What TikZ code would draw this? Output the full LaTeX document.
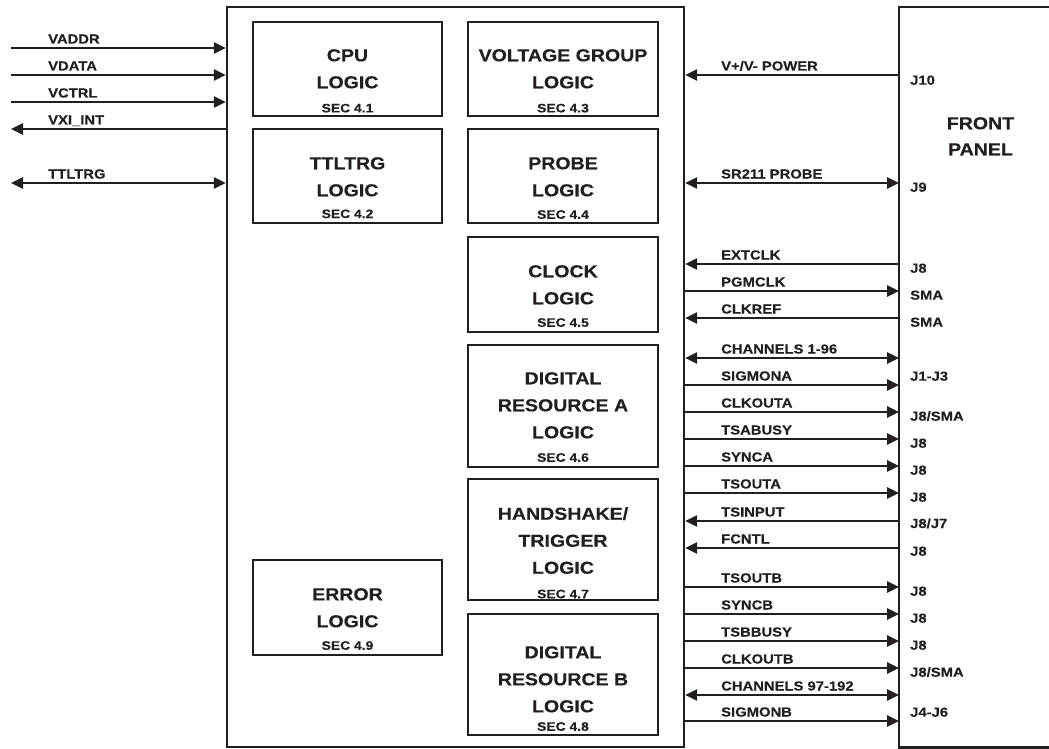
\documentclass[tikz,border=0pt]{standalone}
\usepackage{fontspec}
\setmainfont{Liberation Sans}[FakeStretch=1.13, BoldFeatures={FakeBold=0.4}]
\usetikzlibrary{arrows.meta}
\definecolor{ink}{RGB}{35,31,32}
\newcommand\secf{\fontsize{12.3}{27}\selectfont}
\begin{document}
\begin{tikzpicture}[x=1pt,y=-1pt,
  boxline/.style={draw=ink, line width=2.4pt},
  blk/.style={boxline, inner sep=0pt, minimum width=189pt},
  ttxt/.style={inner sep=0pt, anchor=north, align=center, text=ink,
    font=\fontsize{17.3}{27}\selectfont\bfseries},
  lbl/.style={inner sep=0pt, anchor=base west, text=ink,
    font=\fontsize{13.1}{15}\selectfont\bfseries},
  sig/.style={draw=ink, line width=2.7pt},
  sigR/.style={sig, -{Triangle[length=12pt,width=11pt]}},
  sigL/.style={sig, {Triangle[length=12pt,width=11pt]}-},
  sigB/.style={sig, {Triangle[length=12pt,width=11pt]}-{Triangle[length=12pt,width=11pt]}}
]
\useasboundingbox (0,0) rectangle (1049,749);

% main board
\node[boxline, inner sep=0pt, minimum width=457pt, minimum height=740pt] (main) at (455.5,377) {};

% front panel (open to the right)
\node[inner sep=0pt, minimum width=152pt, minimum height=740pt, anchor=north west] (fp) at (899,7) {};
\draw[ink, line width=2.4pt] (fp.north east) -- (fp.north west) -- (fp.south west) -- (fp.south east);
\node[ttxt] (fptxt) at (980.5,117) {FRONT\\[-1pt]PANEL};

% logic blocks
\node[blk, minimum height=94pt] (cpu) at (347.5,69) {};
\node[blk, minimum height=94pt] (ttl) at (347.5,176) {};
\node[blk, minimum height=95pt] (err) at (347.5,607.5) {};
\node[blk, minimum width=190pt, minimum height=94pt] (volt) at (563,69) {};
\node[blk, minimum width=190pt, minimum height=94pt] (probe) at (563,176) {};
\node[blk, minimum width=190pt, minimum height=95pt] (clock) at (563,284.5) {};
\node[blk, minimum width=190pt, minimum height=122pt] (diga) at (563,406) {};
\node[blk, minimum width=190pt, minimum height=121pt] (hand) at (563,539.5) {};
\node[blk, minimum width=190pt, minimum height=121pt] (digb) at (563,674.5) {};

\node[ttxt] (tcpu) at (347.5,49) {CPU\\LOGIC\\[-2.9pt]{\secf SEC 4.1}};
\node[ttxt] (tttl) at (347.5,157) {TTLTRG\\LOGIC\\[-5.2pt]{\secf SEC 4.2}};
\node[ttxt] (terr) at (347.5,588) {ERROR\\LOGIC\\[-4.5pt]{\secf SEC 4.9}};
\node[ttxt] (tvolt) at (563,49) {VOLTAGE GROUP\\LOGIC\\[-2.9pt]{\secf SEC 4.3}};
\node[ttxt] (tprobe) at (563,157) {PROBE\\LOGIC\\[-4.5pt]{\secf SEC 4.4}};
\node[ttxt] (tclock) at (563,265) {CLOCK\\LOGIC\\[-4.5pt]{\secf SEC 4.5}};
\node[ttxt] (tdiga) at (563,372) {DIGITAL\\RESOURCE A\\LOGIC\\[-3.5pt]{\secf SEC 4.6}};
\node[ttxt] (thand) at (563,507) {HANDSHAKE/\\TRIGGER\\LOGIC\\[-2.5pt]{\secf SEC 4.7}};
\node[ttxt] (tdigb) at (563,646) {DIGITAL\\RESOURCE B\\LOGIC\\[-8.5pt]{\secf SEC 4.8}};

% left side signals
\foreach \yy/\st/\txt [count=\i] in {48/sigR/VADDR, 75/sigR/VDATA, 102/sigR/VCTRL, 129/sigL/{VXI\_INT}, 183/sigB/TTLTRG} {
  \coordinate (le\i) at (11,\yy);
  \draw[\st] (le\i) -- (main.west |- le\i);
  \node[lbl] (ll\i) at (48,\yy-4.5) {\txt};
}

% right side signals
\foreach \yy/\st/\txt [count=\i] in {75/sigL/{V+/V- POWER}, 183/sigB/{SR211 PROBE}, 264/sigL/EXTCLK, 291/sigR/PGMCLK, 318/sigL/CLKREF, 358/sigB/{CHANNELS 1-96}, 385/sigR/SIGMONA, 412/sigR/CLKOUTA, 439/sigR/TSABUSY, 466/sigR/SYNCA, 493/sigR/TSOUTA, 521/sigL/TSINPUT, 548/sigL/FCNTL, 587/sigR/TSOUTB, 614/sigR/SYNCB, 641/sigR/TSBBUSY, 668/sigR/CLKOUTB, 695/sigB/{CHANNELS 97-192}, 721/sigR/SIGMONB} {
  \draw[\st] (main.east |- 0,\yy) -- (fp.west |- 0,\yy);
  \node[lbl] (rl\i) at (721,\yy-4.5) {\txt};
}

% connector names on the front panel
\foreach \yy/\txt [count=\i] in {84.7/J10, 191.7/J9, 272.7/J8, 299.7/SMA, 326.7/SMA, 380.7/J1-J3, 420.7/{J8/SMA}, 447.7/J8, 474.7/J8, 501.7/J8, 528/{J8/J7}, 555.7/J8, 595.7/J8, 622.7/J8, 649.7/J8, 676.7/{J8/SMA}, 716.7/J4-J6} {
  \node[lbl] (jl\i) at (910,\yy) {\txt};
}
\end{tikzpicture}
\end{document}
